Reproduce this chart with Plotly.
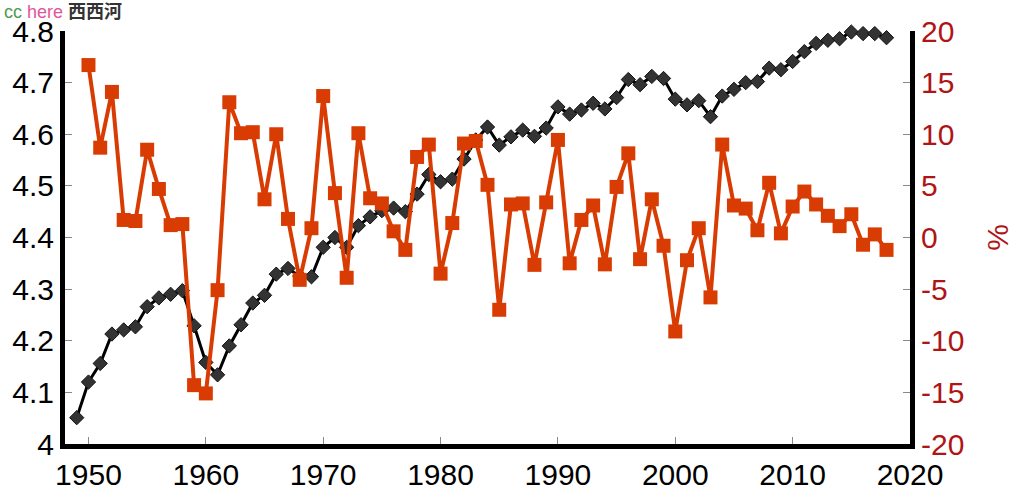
import plotly.graph_objects as go

years_black = list(range(1949, 2019))
black_vals = [4.051, 4.120, 4.156, 4.213, 4.221, 4.227, 4.266, 4.283, 4.290, 4.297,
              4.229, 4.158, 4.134, 4.190, 4.231, 4.273, 4.288, 4.329, 4.340, 4.325,
              4.324, 4.381, 4.400, 4.381, 4.423, 4.440, 4.452, 4.457, 4.450, 4.484,
              4.522, 4.508, 4.513, 4.552, 4.589, 4.614, 4.579, 4.595, 4.608, 4.596,
              4.612, 4.653, 4.639, 4.647, 4.660, 4.649, 4.671, 4.706, 4.696, 4.712,
              4.708, 4.668, 4.657, 4.665, 4.634, 4.674, 4.687, 4.700, 4.702, 4.728,
              4.725, 4.741, 4.760, 4.776, 4.782, 4.785, 4.798, 4.795, 4.795, 4.787]

years_orange = list(range(1950, 2019))
orange_vals = [16.7, 8.7, 14.1, 1.7, 1.6, 8.5, 4.7, 1.2, 1.3, -14.3,
               -15.1, -5.1, 13.1, 10.1, 10.2, 3.7, 10.0, 1.8, -4.1, 0.9,
               13.7, 4.3, -3.9, 10.1, 3.8, 3.3, 0.6, -1.2, 7.8, 9.0,
               -3.5, 1.4, 9.1, 9.35, 5.1, -7.0, 3.2, 3.3, -2.65, 3.4,
               9.45, -2.5, 1.7, 3.1, -2.6, 4.9, 8.15, -2.1, 3.7, -0.8,
               -9.1, -2.2, 0.9, -5.8, 9.0, 3.1, 2.8, 0.7, 5.3, 0.4,
               3.0, 4.45, 3.2, 2.1, 1.1, 2.25, -0.7, 0.3, -1.2]

x_ticks = [1950, 1960, 1970, 1980, 1990, 2000, 2010, 2020]
left_ticks = [4, 4.1, 4.2, 4.3, 4.4, 4.5, 4.6, 4.7, 4.8]
left_labels = ["4", "4.1", "4.2", "4.3", "4.4", "4.5", "4.6", "4.7", "4.8"]
right_ticks = [-20, -15, -10, -5, 0, 5, 10, 15, 20]
right_labels = ["-20", "-15", "-10", "-5", "0", "5", "10", "15", "20"]

RED = "#b01515"
ORANGE = "#d93c02"
FONT = "Liberation Sans, Arial, sans-serif"

fig = go.Figure()
fig.add_trace(go.Scatter(
    x=years_black, y=black_vals, mode="lines+markers", yaxis="y",
    line=dict(color="black", width=3), cliponaxis=False,
    marker=dict(symbol="diamond", size=11, color="#333333",
                line=dict(color="#111111", width=1)),
    showlegend=False))
fig.add_trace(go.Scatter(
    x=years_orange, y=orange_vals, mode="lines+markers", yaxis="y2",
    line=dict(color=ORANGE, width=4), cliponaxis=False,
    marker=dict(symbol="square", size=14, color=ORANGE),
    showlegend=False))

tickfont = dict(family=FONT, size=30, color="black")

fig.update_layout(
    width=1024, height=503,
    margin=dict(l=62, r=114, t=31, b=50),
    paper_bgcolor="white", plot_bgcolor="white",
    xaxis=dict(range=[1948, 2020], tickvals=x_ticks, ticks="inside", ticklen=7,
               tickcolor="#888888", tickwidth=1, showgrid=False, zeroline=False,
               showline=True, linecolor="black", linewidth=5, tickfont=tickfont),
    yaxis=dict(range=[4, 4.8], tickvals=left_ticks, ticktext=left_labels,
               ticks="inside", ticklen=7, tickcolor="#888888", tickwidth=1,
               showgrid=False, zeroline=False, showline=True, linecolor="black",
               linewidth=5, tickfont=tickfont),
    yaxis2=dict(range=[-20, 20], tickvals=right_ticks, ticktext=right_labels,
                overlaying="y", side="right",
                ticks="inside", ticklen=7, tickcolor="#888888", tickwidth=1,
                showgrid=False, zeroline=False, showline=True, linecolor="black",
                linewidth=5,
                tickfont=dict(family=FONT, size=30, color=RED),
                title=dict(text="%", font=dict(family=FONT, size=30, color=RED),
                           standoff=25)),
)

fig.add_annotation(
    xref="paper", yref="paper", x=-62/848, y=1 + 36/422, xanchor="left", yanchor="top",
    showarrow=False, borderpad=0,
    text="<span style='color:#4f9a4f'>cc</span> <span style='color:#e0569a'>here</span> "
         "<span style='color:#333333;font-family:Noto Sans CJK SC'><b>西西河</b></span>",
    font=dict(family=FONT, size=18),
)

fig.write_html("out.html")
